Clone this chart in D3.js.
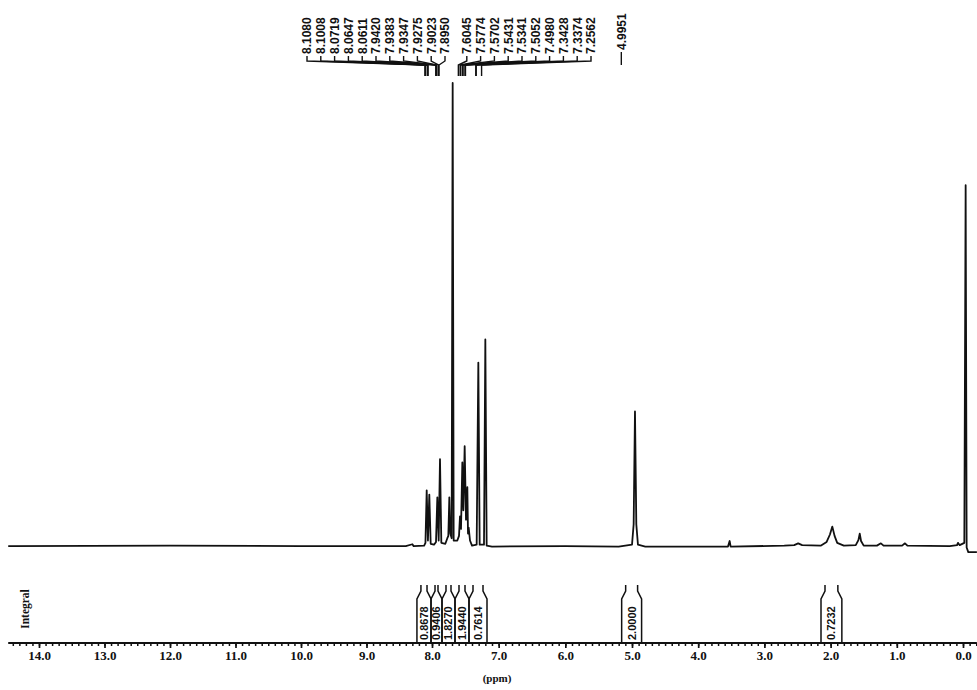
<!DOCTYPE html>
<html>
<head>
<meta charset="utf-8">
<script src="https://cdn.jsdelivr.net/npm/d3@7/dist/d3.min.js"></script>
<style>
  html, body { margin: 0; padding: 0; background: #fff; }
  svg { display: block; }
</style>
</head>
<body>
<svg id="chart" width="977" height="690"></svg>
<script>
// ---------------- DATA ----------------
// Spectrum trace: [chemical shift (ppm), relative intensity (tallest = 100)]
const spectrum = [
  [14.47, 0.3], [12.0, 0.4], [10.0, 0.3], [8.40, 0.3], [8.30, 0.7], [8.28, 0.3],
  [8.12, 0.4], [8.10, 1.0], [8.081, 12.3], [8.062, 1.5], [8.041, 11.4], [8.02, 0.8],
  [7.97, 0.6], [7.94, 1.2], [7.920, 10.8], [7.90, 1.5], [7.880, 19.0], [7.86, 1.0],
  [7.80, 0.8], [7.77, 2.0], [7.755, 2.5], [7.740, 10.8], [7.725, 3.0], [7.705, 2.0],
  [7.690, 100], [7.675, 1.5], [7.62, 1.5], [7.595, 2.5], [7.580, 6.7], [7.565, 4.0],
  [7.545, 18.3], [7.530, 8.0], [7.510, 21.8], [7.490, 6.0], [7.470, 13.0], [7.460, 3.0],
  [7.450, 4.3], [7.43, 1.5], [7.40, 0.4], [7.33, 0.6], [7.305, 39.8], [7.285, 0.6],
  [7.22, 0.6], [7.200, 44.8], [7.180, 0.4], [7.10, 0.2], [6.0, 0.3], [5.20, 0.2],
  [5.00, 0.6], [4.975, 5.0], [4.955, 29.3], [4.935, 5.0], [4.91, 0.6], [4.80, 0.2],
  [3.55, 0.2], [3.525, 1.4], [3.51, 0.2], [2.70, 0.4], [2.55, 0.5], [2.49, 0.9],
  [2.43, 0.5], [2.15, 0.4], [2.06, 1.2], [2.01, 2.8], [1.974, 4.5], [1.94, 2.5],
  [1.90, 1.0], [1.80, 0.4], [1.62, 0.5], [1.58, 1.6], [1.56, 3.0], [1.54, 1.4],
  [1.50, 0.4], [1.30, 0.4], [1.24, 0.9], [1.20, 0.4], [0.92, 0.4], [0.876, 0.9],
  [0.84, 0.4], [0.20, 0.3], [0.09, 0.5], [0.076, 1.0], [0.05, 0.5], [-0.02, 1.0],
  [-0.04, 78], [-0.055, 0.0], [-0.08, -1.0], [-0.21, -1.0]
];

// Peak-pick labels (ppm)
const peakLabelsA = ["8.1080","8.1008","8.0719","8.0647","8.0611","7.9420","7.9383","7.9347","7.9275","7.9023","7.8950"];
const peakLabelsB = ["7.6045","7.5774","7.5702","7.5431","7.5341","7.5052","7.4980","7.3428","7.3374","7.2562"];
const peakLabelSingle = "4.9951";

// Integral regions: [from ppm, to ppm, value]
const integrals = [
  [8.23, 8.015, "0.8678"],
  [8.015, 7.85, "0.9406"],
  [7.85, 7.655, "1.8270"],
  [7.655, 7.445, "1.9440"],
  [7.445, 7.175, "0.7614"],
  [5.155, 4.855, "2.0000"],
  [2.145, 1.83, "0.7232"]
];

// Axis tick labels
const majorTicks = [14, 13, 12, 11, 10, 9, 8, 7, 6, 5, 4, 3, 2, 1, 0];
const axisTitle = "(ppm)";
const integralTitle = "Integral";

// ---------------- DRAW ----------------
const svg = d3.select("#chart");
const ink = "#111";

const x = d3.scaleLinear().domain([14, 8, 5, 0]).range([39, 432, 632, 963]);
const y = d3.scaleLinear().domain([0, 100]).range([547.5, 83]);

// spectrum
svg.append("path")
  .datum(spectrum)
  .attr("fill", "none")
  .attr("stroke", ink)
  .attr("stroke-width", 1.8)
  .attr("stroke-linejoin", "round")
  .attr("d", d3.line().x(d => x(d[0])).y(d => y(d[1])));

// peak labels
const labelFont = "bold 12px 'Liberation Sans', Arial, sans-serif";
const labelBottom = 54;
const startX = 307, spacing = 13.8, gap = 8;
const allLabels = peakLabelsA.concat(peakLabelsB);
const lab = svg.append("g");
allLabels.forEach((t, i) => {
  const tx = startX + i * spacing + (i >= peakLabelsA.length ? gap : 0);
  const px = x(+t);
  lab.append("text")
    .attr("transform", `translate(${tx},${labelBottom}) rotate(-90)`)
    .attr("dy", "0.36em")
    .style("font", labelFont)
    .attr("fill", ink)
    .text(t);
  lab.append("path")
    .attr("fill", "none").attr("stroke", ink).attr("stroke-width", 1.4)
    .attr("d", `M${tx},${labelBottom + 2}V61L${px},65V76`);
});
{
  const px = x(+peakLabelSingle);
  const tx = px - 11;
  lab.append("text")
    .attr("transform", `translate(${tx},${labelBottom - 4}) rotate(-90)`)
    .attr("dy", "0.36em")
    .style("font", labelFont)
    .attr("fill", ink)
    .text(peakLabelSingle);
  lab.append("path")
    .attr("fill", "none").attr("stroke", ink).attr("stroke-width", 1.4)
    .attr("d", `M${tx},${labelBottom - 2}V65`);
}

// axis
const axisY = 643;
const gAxis = svg.append("g").attr("transform", `translate(0,${axisY})`);
gAxis.append("line")
  .attr("x1", x(14.47)).attr("x2", x(-0.21))
  .attr("stroke", ink).attr("stroke-width", 1.8);
const minor = d3.range(144, -3, -1).map(v => v / 10);
gAxis.append("g").call(
  d3.axisBottom(x).tickValues(minor).tickSize(3).tickSizeOuter(0).tickFormat("")
).call(g => g.select(".domain").remove())
 .call(g => g.selectAll("line").attr("stroke", ink).attr("stroke-width", 1.5));
gAxis.append("g").call(
  d3.axisBottom(x).tickValues(majorTicks).tickSize(5).tickPadding(3)
    .tickSizeOuter(0).tickFormat(d3.format(".1f"))
).call(g => g.select(".domain").remove())
 .call(g => g.selectAll("line").attr("stroke", ink).attr("stroke-width", 1.7))
 .call(g => g.selectAll("text").attr("fill", ink)
   .style("font", "bold 13px 'Liberation Serif', 'Times New Roman', serif"));

svg.append("text")
  .attr("x", 497).attr("y", 682)
  .attr("text-anchor", "middle")
  .style("font", "bold 11px 'Liberation Serif', serif")
  .attr("fill", ink)
  .text(axisTitle);

svg.append("text")
  .attr("transform", "translate(25,609) rotate(-90)")
  .attr("text-anchor", "middle")
  .attr("dy", "0.35em")
  .style("font", "bold 11.5px 'Liberation Serif', serif")
  .attr("fill", ink)
  .text(integralTitle);

// integrals
const gInt = svg.append("g");
integrals.forEach(([a, b, v]) => {
  const xl = x(a), xr = x(b);
  gInt.append("path")
    .attr("fill", "none").attr("stroke", ink).attr("stroke-width", 1.5)
    .attr("d", `M${xl + 4},585V591L${xl},599V${axisY}M${xr - 4},585V591L${xr},599V${axisY}`);
  gInt.append("text")
    .attr("transform", `translate(${(xl + xr) / 2},${axisY - 3}) rotate(-90)`)
    .attr("dy", "0.36em")
    .style("font", "bold 11px 'Liberation Sans', Arial, sans-serif")
    .attr("fill", ink)
    .text(v);
});
</script>
</body>
</html>
